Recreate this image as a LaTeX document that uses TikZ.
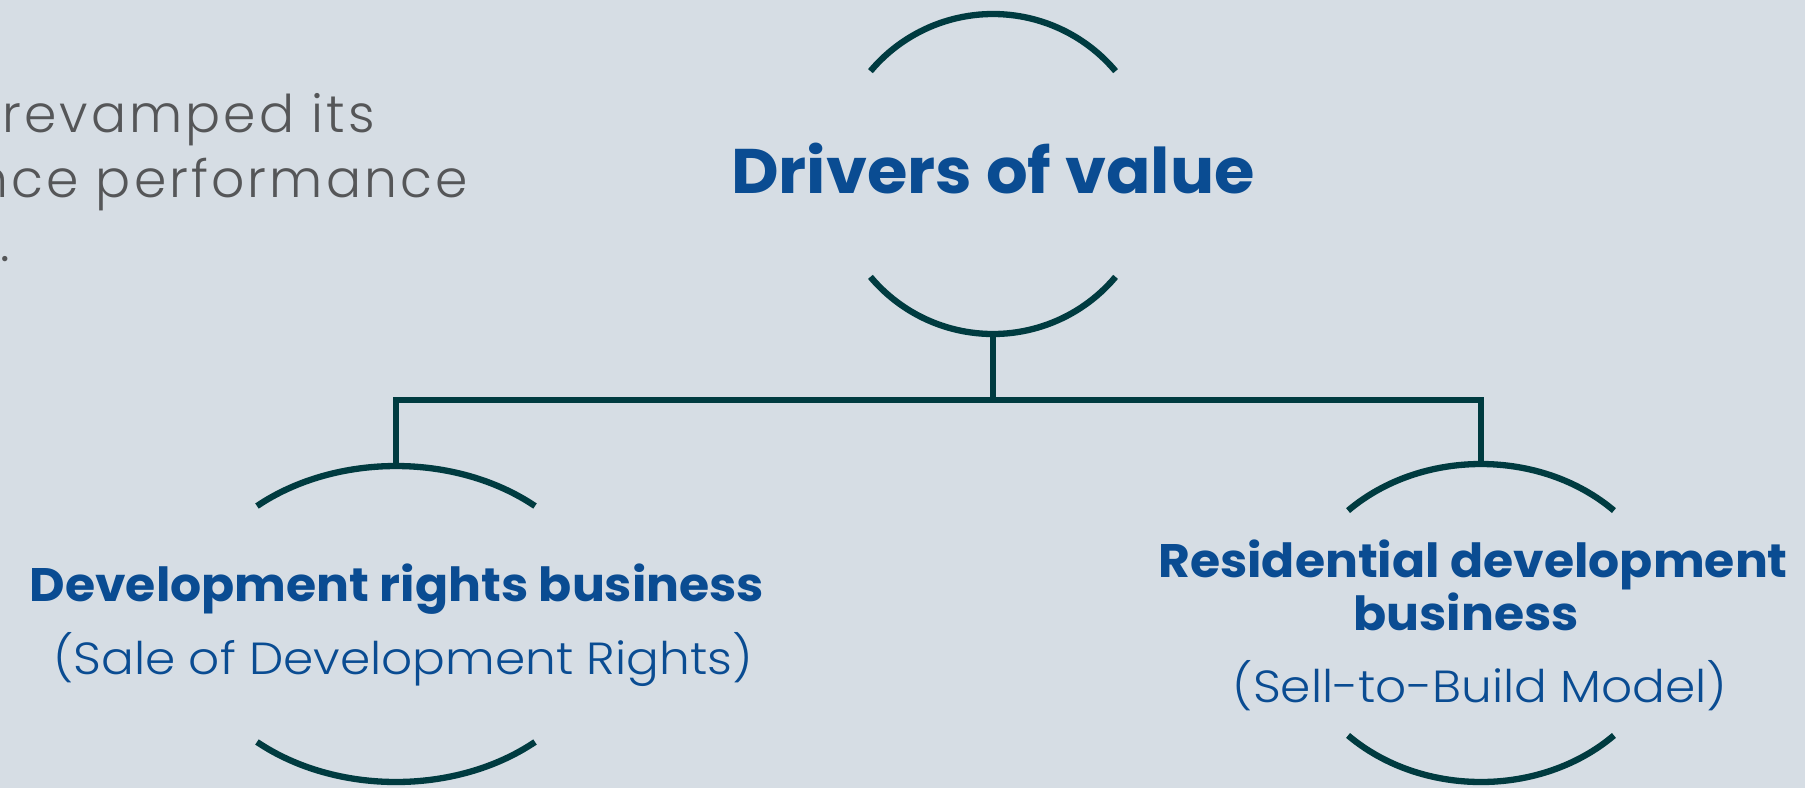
\documentclass[tikz,border=0pt]{standalone}
\usepackage{fontspec}
\setmainfont{Poppins}[FakeStretch=1.04]
\newfontfamily\lightfont{Poppins Light}[FakeStretch=1.08]
\newfontfamily\greyfont{Poppins Light}[LetterSpace=6]
\definecolor{paper}{HTML}{D6DDE4}
\definecolor{ink}{HTML}{003B40}
\definecolor{navy}{HTML}{0A4C92}
\definecolor{slate}{HTML}{555658}
\tikzset{
  ring/.style={draw=ink, line width=6.3pt},
  link/.style={draw=ink, line width=6.3pt},
  head/.style={anchor=base, inner sep=0pt, text=navy, font=\bfseries\fontsize{47}{56}\selectfont},
  sub/.style={anchor=base, inner sep=0pt, text=navy, font=\lightfont\fontsize{45}{54}\selectfont},
  note/.style={inner sep=0pt, text=slate, font=\greyfont\fontsize{52}{65}\selectfont},
}
\begin{document}
\begin{tikzpicture}[x=1pt, y=-1pt]
  \fill[paper] (0,0) rectangle (1805,788);
  \useasboundingbox (0,0) rectangle (1805,788);
  \clip (0,0) rectangle (1805,788);

  % running text at the left margin
  \node[note, anchor=base west] (n1) at (2,132) {revamped its};
  \node[note, anchor=base east] (n2) at (468,197) {nce performance};
  \node[note, anchor=base west] (n3) at (0,261) {.};

  % root: Drivers of value
  \coordinate (root) at (993,174);
  \draw[ring] (root) ++(220:160) arc[start angle=220, end angle=320, radius=160];
  \draw[ring] (root) ++(40:160) arc[start angle=40, end angle=140, radius=160];
  \node[head, font=\bfseries\fontsize{63}{70}\selectfont] (drv) at (993,193) {Drivers of value};
  \coordinate (rootB) at (993,334);

  % left branch
  \coordinate (lc) at (396,624);
  \draw[ring] (lc) ++(228.3:209 and 158) arc[start angle=228.3, end angle=311.7, x radius=209, y radius=158];
  \draw[ring] (lc) ++(48.3:209 and 158) arc[start angle=48.3, end angle=131.7, x radius=209, y radius=158];
  \coordinate (lT) at (396,466);
  \node[head] (dev) at (397,601) {Development rights business};
  \node[sub] (devs) at (403,674) {(Sale of Development Rights)};

  % right branch
  \coordinate (rc) at (1481,623);
  \draw[ring] (rc) ++(225:188 and 159) arc[start angle=225, end angle=315, x radius=188, y radius=159];
  \draw[ring] (rc) ++(45:188 and 159) arc[start angle=45, end angle=135, x radius=188, y radius=159];
  \coordinate (rT) at (1481,464);
  \node[head] (res1) at (1473,577) {Residential development};
  \node[head] (res2) at (1466,630) {business};
  \node[sub] (ress) at (1480,702) {(Sell-to-Build Model)};

  % connectors
  \draw[link] (rootB) -- ++(0,66) -| (lT);
  \draw[link] (rootB) -- ++(0,66) -| (rT);
\end{tikzpicture}
\end{document}
